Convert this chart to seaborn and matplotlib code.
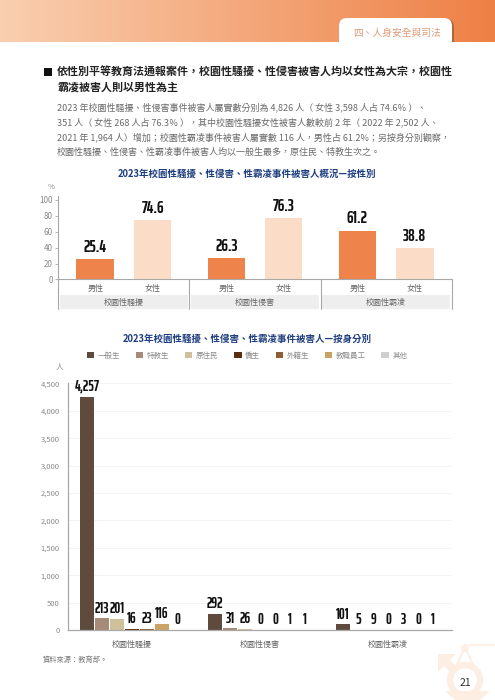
import numpy as np
import pandas as pd
import seaborn as sns
import matplotlib
matplotlib.use('Agg')
import matplotlib.pyplot as plt
from matplotlib.colors import LinearSegmentedColormap
from matplotlib.patches import Rectangle, FancyBboxPatch, Circle, Polygon

W, H = 495, 700

# gender chart
events = ['校園性騷擾', '校園性侵害', '校園性霸凌']
genders = ['男性', '女性']
male_pct = [25.4, 26.3, 61.2]
female_pct = [74.6, 76.3, 38.8]
gender_colors = ['#ee844c', '#fbdcc6']

# status chart
statuses = ['一般生', '特教生', '原住民', '僑生', '外籍生', '教職員工', '其他']
harassment = [4257, 213, 201, 16, 23, 116, 0]
assault = [292, 31, 26, 0, 0, 1, 1]
bullying = [101, 5, 9, 0, 3, 0, 1]
status_colors = ['#5f4b3e', '#a68b78', '#cfc09c', '#5c2e10', '#8f5e35', '#c9a264', '#cfcfcf']

pct_ticks = [0, 20, 40, 60, 80, 100]
count_ticks = [0, 500, 1000, 1500, 2000, 2500, 3000, 3500, 4000, 4500]

heading = ['依性別平等教育法通報案件，校園性騷擾、性侵害被害人均以女性為大宗，校園性',
           '霸凌被害人則以男性為主']
body = ['2023 年校園性騷擾、性侵害事件被害人屬實數分別為 4,826 人（ 女性 3,598 人占 74.6％ ）、',
        '351 人（ 女性 268 人占 76.3％ ），其中校園性騷擾女性被害人數較前 2 年（ 2022 年 2,502 人、',
        '2021 年 1,964 人）增加；校園性霸凌事件被害人屬實數 116 人，男性占 61.2%；另按身分別觀察，',
        '校園性騷擾、性侵害、性霸凌事件被害人均以一般生最多，原住民、特教生次之。']

sns.set_theme(style='white')
plt.rcParams['font.family'] = ['Noto Sans CJK TC', 'DejaVu Sans']
NUM_FONT = ['Saira ExtraCondensed', 'Liberation Sans', 'DejaVu Sans']
GREY = '#8a8a8a'
AXIS = '#a8a8a8'
NAVY = '#1f3f80'


def px_axes(left, top, right, bottom):
    return fig.add_axes([left / W, 1 - bottom / H, (right - left) / W, (bottom - top) / H])


fig = plt.figure(figsize=(W / 100, H / 100), dpi=100)

# page furniture, drawn in pixel coordinates
page = fig.add_axes([0, 0, 1, 1], zorder=0)
cmap = LinearSegmentedColormap.from_list('band', ['#f9cfb0', '#ee8045'])
page.imshow(np.linspace(0, 1, 256).reshape(1, -1), cmap=cmap, aspect='auto', extent=[0, W, 42, 0])
page.set_xlim(0, W)
page.set_ylim(H, 0)
page.axis('off')
page.add_patch(FancyBboxPatch((342, 19), 112, 40, boxstyle='round,pad=0,rounding_size=8',
                              fc='#a9683a', ec='none'))
page.add_patch(FancyBboxPatch((339, 18), 113, 40, boxstyle='round,pad=0,rounding_size=8',
                              fc='white', ec='none'))
page.add_patch(Rectangle((330, 42), 165, 20, fc='white', ec='none'))
page.text(397, 33, '四、人身安全與司法', fontsize=7, color='#dd9a75', ha='center', va='center')

# watermark behind the page number
mark = '#fdeee3'
page.add_patch(Circle((465, 680), 15, fc='none', ec=mark, lw=4.5))
page.add_patch(Polygon([[438, 654], [456, 654], [450, 660], [459, 669], [453, 675], [444, 666], [438, 672]],
                       fc=mark, ec='none'))
page.plot([465, 450], [647, 680], color=mark, lw=1.5)
page.plot([465, 480], [647, 680], color=mark, lw=1.5)
page.plot([470, 495], [645, 645], color=mark, lw=1.2)
page.add_patch(Circle((465, 648), 3, fc='white', ec=mark, lw=1.2))
page.add_patch(Polygon([[445, 691], [490, 691], [480, 700], [455, 700]], fc=mark, ec='none'))
page.text(465, 683, '21', fontsize=7.5, color='#333333', ha='center', va='center')

page.add_patch(Rectangle((44, 68), 8, 8, fc='#111111', ec='none'))
for y, line in zip([72, 87], heading):
    page.text(57, y, line, fontsize=7.9, fontweight='bold', color='#222222', va='center')
for y, line in zip([107, 122.5, 137.5, 152.5], body):
    page.text(57, y, line, fontsize=6.5, color='#6a6a6a', va='center')

page.text(247, 174, '2023年校園性騷擾、性侵害、性霸凌事件被害人概況—按性別', fontsize=6.8,
          fontweight='bold', color=NAVY, ha='center', va='center')
page.text(247, 339, '2023年校園性騷擾、性侵害、性霸凌事件被害人—按身分別', fontsize=6.8,
          fontweight='bold', color=NAVY, ha='center', va='center')
page.text(51.5, 187, '%', fontsize=5.5, color=GREY, ha='center', va='center')
page.text(59, 366, '人', fontsize=5.5, color=GREY, ha='center', va='center')
page.text(43, 660, '資料來源：教育部。', fontsize=5.2, color='#777777', va='center')

# gender chart
gender_df = pd.DataFrame({
    'event': events * 2,
    'gender': ['男性'] * 3 + ['女性'] * 3,
    'pct': male_pct + female_pct,
})
ax1 = px_axes(58.3, 196, 451.7, 279.5)
ax1.patch.set_alpha(0)
sns.barplot(data=gender_df, x='event', y='pct', hue='gender', order=events, hue_order=genders,
            palette=gender_colors, saturation=1, width=0.876, gap=0.347, linewidth=0, legend=False, ax=ax1)
ax1.set_xlim(-0.5, 2.5)
ax1.set_ylim(0, 104.4)
ax1.set_xlabel('')
ax1.set_ylabel('')
ax1.set_yticks(pct_ticks)
ax1.tick_params(axis='y', labelsize=5.8, labelcolor=GREY, length=2, width=0.6, color=AXIS, pad=2, left=True)
ax1.set_xticks(range(3))
ax1.set_xticklabels(events, fontsize=5.8, color='#666666')
ax1.tick_params(axis='x', length=0, pad=13)
sns.despine(ax=ax1, top=True, right=True)
for side in ['left', 'bottom']:
    ax1.spines[side].set_color(AXIS)
    ax1.spines[side].set_linewidth(0.8)
for cont in ax1.containers:
    ax1.bar_label(cont, fmt='%.1f', padding=3, fontsize=12, fontweight='bold',
                  family=NUM_FONT, color='#111111')

# gender names and group bands sit under the axis
trans = ax1.get_xaxis_transform()
ax_h = 279.5 - 196
for cont, name in zip(ax1.containers, genders):
    for bar in cont:
        ax1.text(bar.get_x() + bar.get_width() / 2, -(291 - 279.5) / ax_h, name, transform=trans,
                 fontsize=5.8, color='#666666', ha='center', va='baseline')
for i in range(3):
    ax1.add_patch(Rectangle((i - 0.487, -(309 - 279.5) / ax_h), 0.974, 14 / ax_h, transform=trans,
                            fc='#eeeeee', ec='none', clip_on=False, zorder=0))
for edge in [-0.5, 0.5, 1.5, 2.5]:
    ax1.plot([edge, edge], [0, -(309 - 279.5) / ax_h], transform=trans, color=AXIS, lw=0.8, clip_on=False)

# status chart
status_df = pd.DataFrame({
    'event': np.repeat(events, len(statuses)),
    'status': statuses * 3,
    'count': harassment + assault + bullying,
})
ax2 = px_axes(68, 383.4, 452, 630)
ax2.patch.set_alpha(0)
sns.barplot(data=status_df, x='event', y='count', hue='status', order=events, hue_order=statuses,
            palette=status_colors, saturation=1, width=0.82, gap=0.13, linewidth=0, ax=ax2)
ax2.set_xlim(-0.5, 2.5)
ax2.set_ylim(0, 4500)
ax2.set_xlabel('')
ax2.set_ylabel('')
ax2.set_yticks(count_ticks)
ax2.set_yticklabels([f'{t:,}' for t in count_ticks])
ax2.tick_params(axis='y', labelsize=5.5, labelcolor=GREY, length=0, pad=6)
ax2.tick_params(axis='x', labelsize=5.8, labelcolor='#666666', length=0, pad=7)
ax2.yaxis.grid(True, color='#f3f3f3', lw=0.6)
ax2.set_axisbelow(True)
sns.despine(ax=ax2, top=True, right=True)
for side in ['left', 'bottom']:
    ax2.spines[side].set_color(AXIS)
    ax2.spines[side].set_linewidth(0.9)
for cont in ax2.containers:
    ax2.bar_label(cont, fmt='{:,.0f}', padding=2, fontsize=10.5, fontweight='bold',
                  family=NUM_FONT, color='#111111')
ax2.legend(ncols=7, loc='center', bbox_to_anchor=(247 / W, 1 - 355.7 / H), bbox_transform=fig.transFigure,
           frameon=False, fontsize=5.4, labelcolor=GREY, handlelength=1.0, handleheight=1.0,
           handletextpad=0.45, columnspacing=2.1, borderpad=0, borderaxespad=0)

fig.savefig('out.png', dpi=100)
